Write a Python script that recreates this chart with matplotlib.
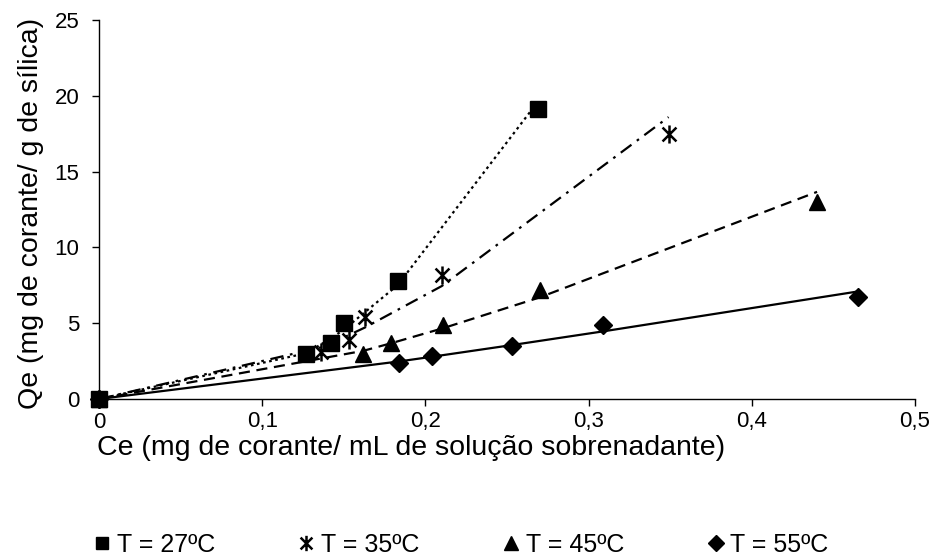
import numpy as np
import matplotlib
matplotlib.use("Agg")
import matplotlib.pyplot as plt
from matplotlib.path import Path
from matplotlib.lines import Line2D
from matplotlib.ticker import FuncFormatter

plt.rcParams['font.family'] = ['Liberation Sans', 'DejaVu Sans']
plt.rcParams['xtick.labelsize'] = 16
plt.rcParams['ytick.labelsize'] = 16

# data
ce_27 = [0.0, 0.127, 0.142, 0.150, 0.183, 0.269]
qe_27 = [0.0, 2.95, 3.7, 5.0, 7.8, 19.1]

ce_35 = [0.0, 0.136, 0.153, 0.163, 0.210, 0.349]
qe_35 = [0.0, 3.1, 3.9, 5.4, 8.2, 17.5]

ce_45 = [0.0, 0.162, 0.179, 0.211, 0.270, 0.440]
qe_45 = [0.0, 2.95, 3.7, 4.9, 7.2, 13.0]

ce_55 = [0.0, 0.184, 0.204, 0.253, 0.309, 0.465]
qe_55 = [0.0, 2.35, 2.86, 3.5, 4.9, 6.75]

labels = ["T = 27ºC", "T = 35ºC", "T = 45ºC", "T = 55ºC"]

# Excel-like asterisk marker: an X plus a vertical bar
star = Path([(-1, -1), (1, 1), (-1, 1), (1, -1), (0, -1.3), (0, 1.3)],
            [Path.MOVETO, Path.LINETO, Path.MOVETO, Path.LINETO, Path.MOVETO, Path.LINETO])

series = [
    (ce_27, qe_27, 's', 11, (0, (1.2, 1.6))),
    (ce_35, qe_35, star, 13, (0, (6, 3, 1.2, 3))),
    (ce_45, qe_45, '^', 12, (0, (5, 3))),
    (ce_55, qe_55, 'D', 9, '-'),
]


def freundlich(x, y):
    # Qe = K * Ce^n fitted in log-log space, evaluated at the measured Ce
    nz = x > 0
    n, lnk = np.polyfit(np.log(x[nz]), np.log(y[nz]), 1)
    out = np.zeros_like(x)
    out[nz] = np.exp(lnk) * x[nz] ** n
    return out


fig = plt.figure(figsize=(9.36, 5.59), dpi=100)
ax = fig.add_axes([99 / 936, 160 / 559, 816 / 936, 379 / 559])

handles = []
for (x, y, m, ms, ls), lab in zip(series, labels):
    x = np.array(x)
    y = np.array(y)
    ax.plot(x, freundlich(x, y), color='black', lw=1.6, linestyle=ls)
    if m is star:
        kw = dict(marker=m, ms=ms, mfc='none', mec='black', mew=1.8)
    else:
        kw = dict(marker=m, ms=ms, color='black')
    ax.plot(x, y, linestyle='none', clip_on=False, **kw)
    kw['ms'] = ms * 0.85
    handles.append(Line2D([], [], linestyle='none', **kw))

ax.set_xlim(0, 0.5)
ax.set_ylim(0, 25)
ax.set_xticks(np.arange(0, 0.51, 0.1))
ax.set_yticks(np.arange(0, 26, 5))
ax.xaxis.set_major_formatter(FuncFormatter(lambda v, p: '0' if abs(v) < 1e-9 else ('%.1f' % v).replace('.', ',')))
for s in ['top', 'right']:
    ax.spines[s].set_visible(False)
for s in ['left', 'bottom']:
    ax.spines[s].set_linewidth(1.0)
ax.tick_params(direction='out', length=5, width=1)
ax.tick_params(axis='x', pad=4)
ax.tick_params(axis='y', pad=9)
ax.set_xlabel('Ce (mg de corante/ mL de solução sobrenadante)', fontsize=20.5)
ax.xaxis.set_label_coords(0.382, -0.095)
ax.set_ylabel('Qe (mg de corante/ g de sílica)', fontsize=20.5)
ax.yaxis.set_label_coords(-0.067, 0.49)

fig.legend(handles, labels, loc='center left', bbox_to_anchor=(93 / 936, 14 / 559), ncol=4,
           frameon=False, fontsize=18, handlelength=0.7, handletextpad=0.25,
           columnspacing=3.3, borderpad=0, borderaxespad=0)

fig.savefig('out.png', dpi=100)
